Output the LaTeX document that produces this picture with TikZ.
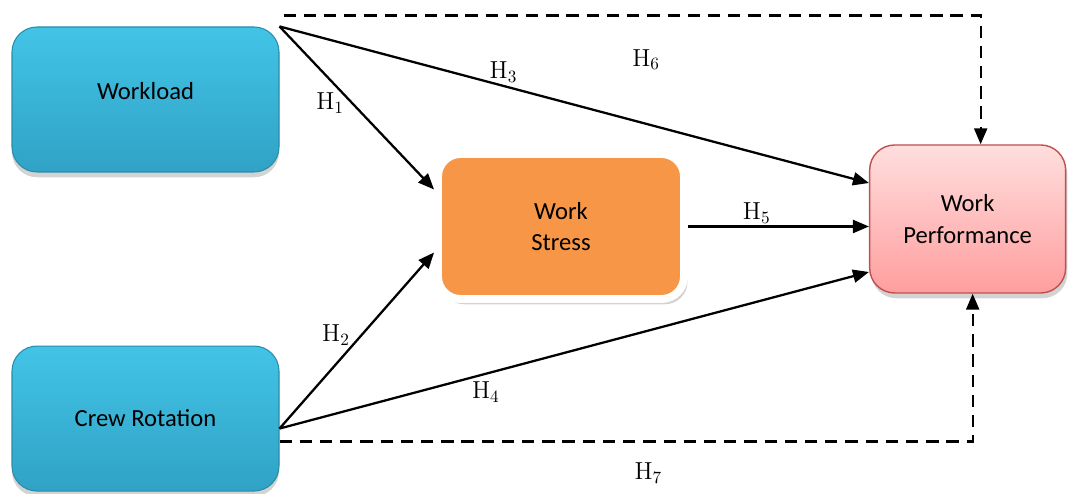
\documentclass[tikz,border=0pt]{standalone}
\usepackage{fontspec}
\usepackage{tikz}
\usetikzlibrary{arrows.meta, positioning, shadows}
\newfontfamily\boxfont{Carlito}
\definecolor{FactorTop}{HTML}{42C4E6}
\definecolor{FactorBottom}{HTML}{30A2C5}
\definecolor{FactorEdge}{HTML}{2A8CAB}
\definecolor{StressOrange}{HTML}{F79646}
\definecolor{PerfTop}{HTML}{FFDEDE}
\definecolor{PerfBottom}{HTML}{FF9E9E}
\definecolor{PerfEdge}{HTML}{C0504D}

\begin{document}
\begin{tikzpicture}[thick,
    factor/.style={draw=FactorEdge, line width=0.6pt, top color=FactorTop, bottom color=FactorBottom,
        rounded corners=0.5cm, minimum width=5.34cm, minimum height=2.9cm,
        font=\boxfont\fontsize{14}{18}\selectfont,
        drop shadow={shadow xshift=0pt, shadow yshift=-3pt, opacity=0.35}},
    hyp/.style={-{Triangle[length=3.2mm, width=2.6mm]}, black, line width=1.3pt},
    hypdash/.style={hyp, dash pattern=on 7pt off 4.5pt},
    hlabel/.style={font=\fontsize{14}{16}\selectfont, inner sep=1pt}]
        \useasboundingbox (0,0) rectangle (21.42,9.88);
        % Nodes
        \node[factor, text depth=0.35cm] (workload) at (2.91,7.89) {Workload};
        \node[factor, below=3.46cm of workload] (crew) {Crew Rotation};
        \node[draw=white, line width=4.5pt, fill=StressOrange, rounded corners=0.45cm,
            minimum width=4.92cm, minimum height=2.9cm, align=center,
            font=\boxfont\fontsize{14}{18}\selectfont,
            drop shadow={shadow xshift=2pt, shadow yshift=-3pt, opacity=0.35}] (stress) at (11.22,5.35) {Work\\Stress};
        \node[draw=PerfEdge, line width=0.8pt, top color=PerfTop, bottom color=PerfBottom, rounded corners=0.5cm,
            minimum width=3.92cm, minimum height=2.96cm, align=center,
            font=\boxfont\fontsize{14}{18}\selectfont,
            drop shadow={shadow xshift=1pt, shadow yshift=-3pt, opacity=0.35},
            right=3.62cm of stress, yshift=0.15cm] (perf) {Work\\Performance};

        % Arrows
        \draw[hyp] (workload.north east) -- node[hlabel, pos=0.47, left=3pt] {H\textsubscript{1}} ([yshift=0.74cm]stress.west);
        \draw[hyp] (workload.north east) -- node[hlabel, pos=0.38, above] {H\textsubscript{3}} ([yshift=0.72cm]perf.west);
        \draw[hyp] ([yshift=-0.2cm]crew.east) -- node[hlabel, pos=0.53, left=5pt] {H\textsubscript{2}} ([yshift=-0.52cm]stress.west);
        \draw[hyp] ([yshift=-0.2cm]crew.east) -- node[hlabel, pos=0.35, below=3pt] {H\textsubscript{4}} ([yshift=-1.06cm]perf.west);
        \draw[hyp] (stress.east) -- node[hlabel, pos=0.38, above] {H\textsubscript{5}} (stress.east -| perf.west);
        \draw[hypdash] ([xshift=0.08cm, yshift=0.22cm]workload.north east) -| node[hlabel, pos=0.26, below=0.62cm] {H\textsubscript{6}} ([xshift=0.26cm]perf.north);
        \draw[hypdash] ([yshift=-0.46cm]crew.east) -| node[hlabel, pos=0.266, below=0.36cm] {H\textsubscript{7}} ([xshift=0.1cm]perf.south);
    \end{tikzpicture}
\end{document}
